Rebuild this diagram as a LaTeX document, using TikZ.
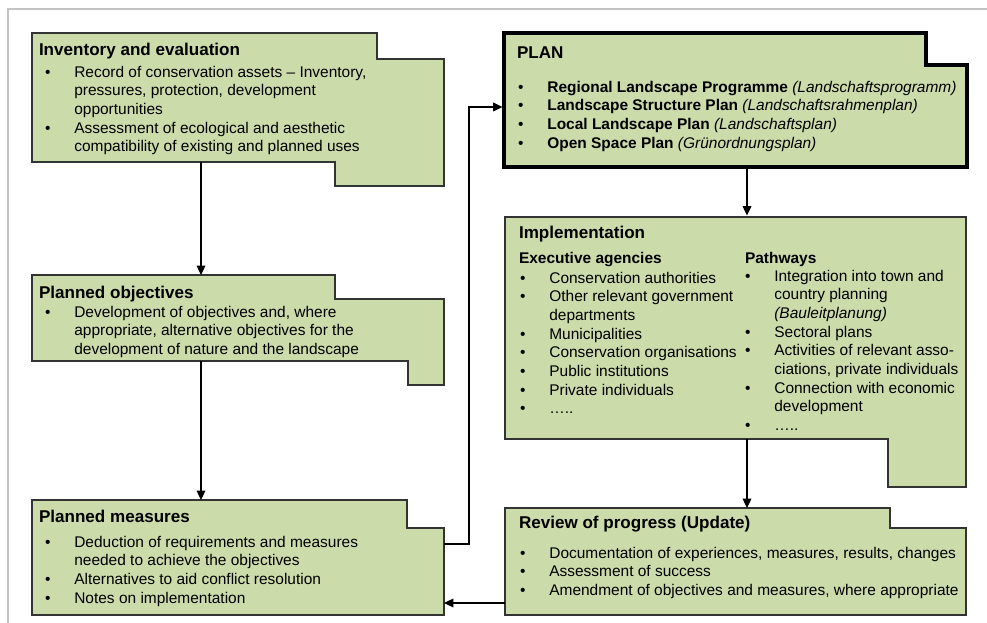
\documentclass[tikz,border=0pt]{standalone}
\usepackage{fontspec}
\setmainfont{Liberation Sans}
\usetikzlibrary{arrows.meta,fit,positioning}
\definecolor{leaf}{RGB}{204,219,170}
\definecolor{rulegray}{RGB}{195,195,195}
\newcommand{\bul}{\makebox[22pt][l]{\textbullet}}
\newcommand{\ind}{\hspace*{22pt}}

\begin{document}
\begin{tikzpicture}[x=0.75pt,y=-0.75pt,every node/.style={inner sep=0pt,outer sep=0pt}]
\tikzstyle{sheet}=[fill=leaf,draw=black!80,line width=0.8pt,line join=miter]
\tikzstyle{planbox}=[sheet,draw=black,line width=2.3pt]
\tikzstyle{panel}=[draw=none,inner sep=0pt]
\tikzstyle{head}=[anchor=base west,font=\fontsize{12.8}{15}\selectfont\bfseries]
\tikzstyle{sub}=[anchor=base west,font=\fontsize{11.6}{14}\selectfont\bfseries]
\tikzstyle{body}=[anchor=north west,align=left,font=\fontsize{11.6}{14}\selectfont]
\tikzstyle{link}=[line width=0.9pt,-{Triangle[length=7pt,width=6.5pt]}]

\useasboundingbox (0,0) rectangle (987,623);
\draw[draw=rulegray,line width=1.5pt] (8,623) -- (8,9) -- (987,9);

\draw[sheet] (32,33) -- (377,33) -- (377,59) -- (444,59) -- (444,186) -- (335,186) -- (335,162) -- (32,162) -- cycle;
\draw[sheet] (32,275) -- (335,275) -- (335,299) -- (444,299) -- (444,385) -- (408,385) -- (408,361) -- (32,361) -- cycle;
\draw[sheet] (32,500) -- (407,500) -- (407,528) -- (444,528) -- (444,615) -- (32,615) -- cycle;
\draw[planbox] (504,33) -- (926,33) -- (926,65) -- (967,65) -- (967,167) -- (504,167) -- cycle;
\draw[sheet] (505,217) -- (966,217) -- (966,487) -- (888,487) -- (888,439) -- (505,439) -- cycle;
\draw[sheet] (505,508) -- (890,508) -- (890,528) -- (966,528) -- (966,615) -- (505,615) -- cycle;

\node[panel,fit={(32,33) (444,162)}] (inv) {};
\node[panel,fit={(32,275) (444,361)}] (obj) {};
\node[panel,fit={(32,500) (444,615)}] (meas) {};
\node[panel,fit={(504,33) (967,167)}] (plan) {};
\node[panel,fit={(505,217) (966,439)}] (impl) {};
\node[panel,fit={(505,508) (966,615)}] (rev) {};

\node[head] (invhead) at (39,55.5) {Inventory and evaluation};
\node[body] (invtext) at (45,66) {\bul Record of conservation assets – Inventory,\\
  \ind pressures, protection, development\\
  \ind opportunities\\
  \bul Assessment of ecological and aesthetic\\
  \ind compatibility of existing and planned uses};

\node[head] (objhead) at (39,298.5) {Planned objectives};
\node[body] (objtext) at (45,306) {\bul Development of objectives and, where\\
  \ind appropriate, alternative objectives for the\\
  \ind development of nature and the landscape};

\node[head] (meashead) at (39,522.5) {Planned measures};
\node[body] (meastext) at (45,536) {\bul Deduction of requirements and measures\\
  \ind needed to achieve the objectives\\
  \bul Alternatives to aid conflict resolution\\
  \bul Notes on implementation};

\node[head] (planhead) at (517,58.5) {PLAN};
\node[body] (plantext) at (518,81) {\bul\textbf{Regional Landscape Programme} \textit{(Landschaftsprogramm)}\\
  \bul\textbf{Landscape Structure Plan} \textit{(Landschaftsrahmenplan)}\\
  \bul\textbf{Local Landscape Plan} \textit{(Landschaftsplan)}\\
  \bul\textbf{Open Space Plan} \textit{(Grünordnungsplan)}};

\node[head] (implhead) at (519,238.5) {Implementation};
\node[sub] (agentshead) at (519,263) {Executive agencies};
\node[sub] (pathhead) at (745,263) {Pathways};
\node[body] (agentstext) at (520,272) {\bul Conservation authorities\\
  \bul Other relevant government\\
  \ind departments\\
  \bul Municipalities\\
  \bul Conservation organisations\\
  \bul Public institutions\\
  \bul Private individuals\\
  \bul …..};
\node[body] (pathtext) at (745,270) {\bul Integration into town and\\
  \ind country planning\\
  \ind\textit{(Bauleitplanung)}\\
  \bul Sectoral plans\\
  \bul Activities of relevant asso-\\
  \ind ciations, private individuals\\
  \bul Connection with economic\\
  \ind development\\
  \bul …..};

\node[head] (revhead) at (519,528.5) {Review of progress (Update)};
\node[body] (revtext) at (520,547) {\bul Documentation of experiences, measures, results, changes\\
  \bul Assessment of success\\
  \bul Amendment of objectives and measures, where appropriate};

\coordinate (lcol) at (201,0);
\coordinate (rcol) at (747,0);
\coordinate (kneeA) at (469,544);
\coordinate (kneeB) at (469,107);
\coordinate (back) at (0,603);

\draw[link] (inv.south -| lcol) -- (obj.north -| lcol);
\draw[link] (obj.south -| lcol) -- (meas.north -| lcol);
\draw[link,shorten >=1.1pt] (meas.east |- kneeA) -- (kneeA) -- (kneeB) -- (plan.west |- kneeB);
\draw[link,shorten >=1.1pt] (plan.south -| rcol) -- (impl.north -| rcol);
\draw[link] (impl.south -| rcol) -- (rev.north -| rcol);
\draw[link] (rev.west |- back) -- (meas.east |- back);
\end{tikzpicture}
\end{document}
